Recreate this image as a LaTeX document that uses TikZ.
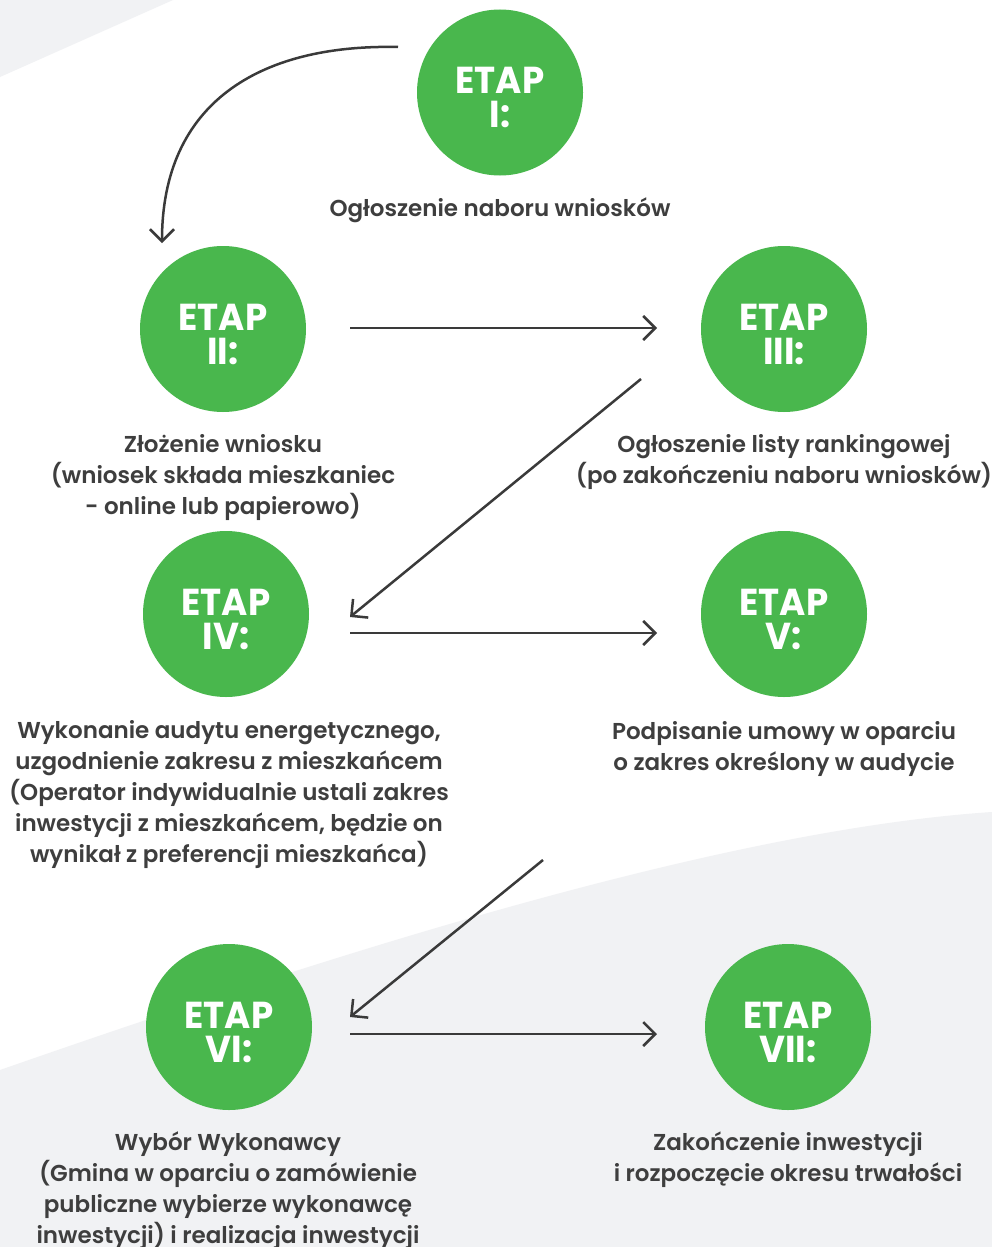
\documentclass[tikz,border=0pt]{standalone}
\usepackage{fontspec}
\setmainfont{Poppins}[BoldFont={Poppins Bold}]
\newfontfamily\semib{Poppins SemiBold}
\newfontfamily\etapfont{Poppins Bold}[FakeStretch=0.95]
\usetikzlibrary{arrows.meta,calc}
\definecolor{etapgreen}{HTML}{49B74D}
\definecolor{bggray}{HTML}{F1F2F4}
\definecolor{txtgray}{HTML}{3E3E3E}
\definecolor{arrgray}{HTML}{3A3A3A}
\tikzset{
  etap/.style={circle,fill=etapgreen,minimum size=166pt,inner sep=0pt},
  etaptxt/.style={text=white,align=center,inner sep=0pt,
    font=\etapfont\fontsize{37.5}{34}\selectfont},
  lbl/.style={text=txtgray,align=center,inner sep=0pt,font=\semib\fontsize{23}{31}\selectfont},
  arr/.style={draw=arrgray,line width=2.5pt,-{Straight Barb[length=12pt,width=24pt]}}
}
\newcommand{\etapnode}[3]{%
  \node[etap] (#1) at #2 {};
  \node[etaptxt] (#1t) at ($(#1)+(0,5)$) {ETAP\\#3:};}
\begin{document}
\begin{tikzpicture}[x=1pt,y=-1pt]
\useasboundingbox (0,0) rectangle (992,1247);
\fill[white] (0,0) rectangle (992,1247);
\fill[bggray] (0,0) -- (173,0) -- (0,77) -- cycle;
\fill[bggray] (0,1070) .. controls (330,955) and (720,830) .. (992,812) -- (992,1247) -- (0,1247) -- cycle;

\etapnode{e1}{(500,92.5)}{I}
\etapnode{e2}{(223,329)}{II}
\etapnode{e3}{(784,329)}{III}
\etapnode{e4}{(226,614)}{IV}
\etapnode{e5}{(784,614)}{V}
\etapnode{e6}{(229,1027)}{VI}
\etapnode{e7}{(788,1027)}{VII}

\node[lbl] (l1) at (500,210) {Ogłoszenie naboru wniosków};
\node[lbl] (l2) at (223,478) {Złożenie wniosku\\(wniosek składa mieszkaniec\\- online lub papierowo)};
\node[lbl] (l3) at (784,462.5) {Ogłoszenie listy rankingowej\\(po zakończeniu naboru wniosków)};
\node[lbl] (l4) at (229,795) {Wykonanie audytu energetycznego,\\uzgodnienie zakresu z mieszkańcem\\(Operator indywidualnie ustali zakres\\inwestycji z mieszkańcem, będzie on\\wynikał z preferencji mieszkańca)};
\node[lbl] (l5) at (784,748.5) {Podpisanie umowy w oparciu\\o zakres określony w audycie};
\node[lbl] (l6) at (228,1190.5) {Wybór Wykonawcy\\(Gmina w oparciu o zamówienie\\publiczne wybierze wykonawcę\\inwestycji) i realizacja inwestycji};
\node[lbl] (l7) at (788,1159.5) {Zakończenie inwestycji\\i rozpoczęcie okresu trwałości};

\coordinate (c12s) at ($(e1)+(-102,-45.5)$);
\coordinate (c12e) at ($(e2)+(-61,-86)$);
\draw[arr] (c12s) .. controls +(-140,-3) and +(0,-139) .. (c12e);

\draw[arr] ($(e2)+(127,-1)$) -- ($(e3)+(-127,-1)$);
\draw[arr] ($(e3)+(-143,50)$) -- ($(e4)+(124,3)$);
\draw[arr] ($(e4)+(124,19)$) -- ($(e5)+(-127,19)$);
\draw[arr] ($(e5)+(-241,246)$) -- ($(e6)+(121,-10)$);
\draw[arr] ($(e6)+(121,7)$) -- ($(e7)+(-131,7)$);
\end{tikzpicture}
\end{document}
